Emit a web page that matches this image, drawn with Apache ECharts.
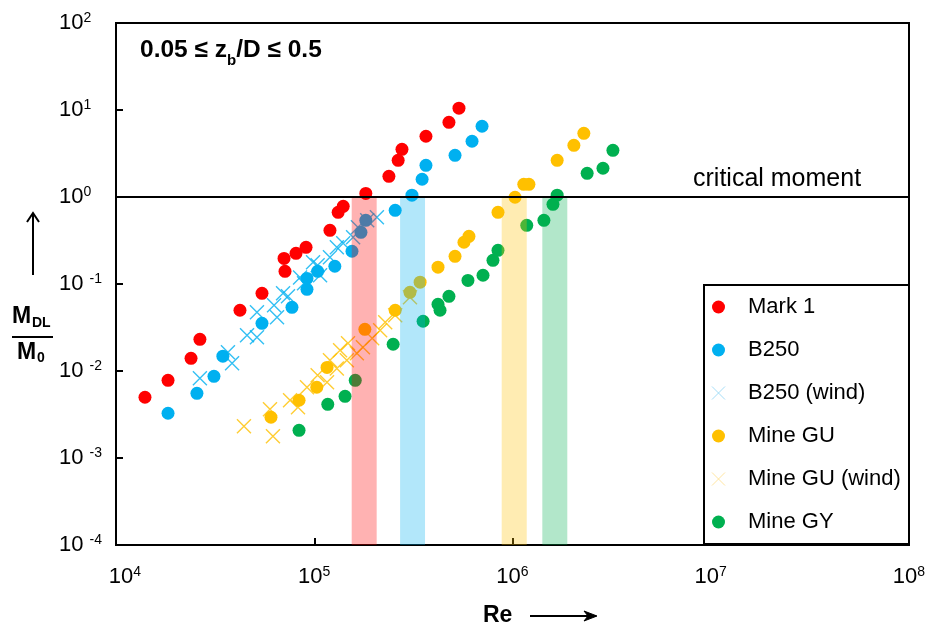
<!DOCTYPE html>
<html><head><meta charset="utf-8">
<script src="https://cdn.jsdelivr.net/npm/echarts@6/dist/echarts.min.js"></script>
<style>html,body{margin:0;padding:0;background:#fff}#c{width:931px;height:628px}</style>
</head><body><div id="c"></div><script>
const FONT = '"Liberation Sans", Arial, Helvetica, sans-serif';
const xTickExps = [4, 5, 6, 7, 8];
const yTickExps = [-4, -3, -2, -1, 0, 1, 2];
const criticalMoment = 1;
const bandRanges = [[1.545e5, 2.065e5], [2.71e5, 3.62e5], [8.82e5, 1.18e6], [1.414e6, 1.89e6]];

const mark1 = [
[1.40e4,4.99e-3],[1.83e4,7.82e-3],[2.39e4,1.40e-2],[2.65e4,2.31e-2],[4.22e4,4.99e-2],
[5.45e4,7.82e-2],[7.04e4,0.197],[7.12e4,0.140],[8.09e4,0.225],[9.09e4,0.264],
[1.20e5,0.414],[1.32e5,0.667],[1.40e5,0.782],[1.82e5,1.10],[2.38e5,1.73],
[2.65e5,2.64],[2.77e5,3.53],[3.66e5,4.99],[4.78e5,7.22],[5.37e5,10.5]
];
const b250 = [
[1.83e4,3.27e-3],[2.56e4,5.54e-3],[3.12e4,8.69e-3],[3.46e4,1.48e-2],[5.45e4,3.53e-2],
[7.72e4,5.40e-2],[9.19e4,8.69e-2],[9.19e4,0.116],[1.04e5,0.140],[1.27e5,0.160],
[1.55e5,0.238],[1.72e5,0.393],[1.82e5,0.540],[2.56e5,0.703],[3.11e5,1.05],
[3.50e5,1.60],[3.66e5,2.31],[5.13e5,3.01],[6.25e5,4.37],[7.02e5,6.50]
];
const b250Wind = [
[2.65e4,8.24e-3],[3.67e4,1.64e-2],[3.85e4,1.23e-2],[4.58e4,2.57e-2],[5.14e4,2.44e-2],
[5.14e4,4.73e-2],[6.27e4,5.69e-2],[6.49e4,4.14e-2],[6.96e4,7.82e-2],[7.37e4,7.22e-2],
[8.48e4,0.119],[8.88e4,0.102],[9.86e4,0.178],[1.04e5,0.164],[1.07e5,0.126],
[1.20e5,0.203],[1.30e5,0.264],[1.40e5,0.294],[1.57e5,0.344],[1.66e5,0.449],
[1.85e5,0.540],[2.07e5,0.585]
];
const mineGU = [
[6.05e4,2.94e-3],[8.38e4,4.61e-3],[1.03e5,6.50e-3],[1.16e5,1.10e-2],[1.80e5,3.01e-2],
[2.56e5,4.99e-2],[3.04e5,8.03e-2],[3.42e5,0.105],[4.21e5,0.156],[5.13e5,0.208],
[5.69e5,0.302],[6.03e5,0.353],[8.45e5,0.667],[1.03e6,0.993],[1.14e6,1.40],
[1.21e6,1.40],[1.68e6,2.64],[2.04e6,3.93],[2.29e6,5.40]
];
const mineGUWind = [
[4.42e4,2.31e-3],[6.19e4,1.78e-3],[5.98e4,3.63e-3],[7.55e4,4.61e-3],[8.28e4,3.83e-3],
[9.19e4,6.50e-3],[1.04e5,8.93e-3],[1.16e5,7.41e-3],[1.20e5,1.33e-2],[1.30e5,1.07e-2],
[1.35e5,1.73e-2],[1.46e5,1.33e-2],[1.48e5,2.08e-2],[1.64e5,1.60e-2],[1.76e5,1.87e-2],
[1.96e5,2.38e-2],[2.15e5,2.94e-2],[2.28e5,3.63e-2],[2.56e5,4.37e-2],[3.04e5,7.03e-2]
];
const mineGY = [
[8.38e4,2.08e-3],[1.17e5,4.14e-3],[1.43e5,5.12e-3],[1.61e5,7.82e-3],[2.50e5,2.03e-2],
[3.54e5,3.73e-2],[4.21e5,5.85e-2],[4.31e5,4.99e-2],[4.78e5,7.22e-2],[5.96e5,0.110],
[7.10e5,0.126],[7.97e5,0.187],[8.45e5,0.244],[1.18e6,0.473],[1.44e6,0.540],
[1.60e6,0.824],[1.68e6,1.05],[2.38e6,1.87],[2.86e6,2.14],[3.21e6,3.44]
];

const C_RED = '#FF0000', C_BLUE = '#00B0F0', C_YEL = '#FFC000', C_GRN = '#00B050';
const bandColors = ['rgba(255,0,0,0.3)', 'rgba(0,176,240,0.3)', 'rgba(255,192,0,0.3)', 'rgba(0,176,80,0.3)'];
const CROSS = 'path://M0,0L10,10M10,0L0,10';

const xLabels = xTickExps.map((e, i) => (i === 0 ? '{f|10}' : '10') + '{s|' + e + '}');
const yLabels = yTickExps.map(e => (e < 0 ? '10 {s|' : '10{s|') + e + '}');

function circleSeries(name, data, color) {
  return { name, type: 'scatter', data, symbol: 'circle', symbolSize: 13,
    itemStyle: { color, opacity: 1 }, z: 2 };
}
function crossSeries(name, data, color) {
  return { name, type: 'scatter', data, symbol: CROSS, symbolSize: 14,
    itemStyle: { color: 'rgba(0,0,0,0)', borderColor: color, borderWidth: 1.4 }, z: 3 };
}

const chart = echarts.init(document.getElementById('c'), null, { renderer: 'canvas' });
const labelRich = {
  s: { fontSize: 14, fontFamily: FONT, color: '#000', verticalAlign: 'top', lineHeight: 14 },
  f: { fontSize: 22, fontFamily: FONT, color: '#000', lineHeight: 24, padding: [0, 0, 0, 18] }
};

chart.setOption({
  animation: false,
  backgroundColor: '#fff',
  grid: { left: 116, top: 23, right: 22, bottom: 83, show: true, borderColor: '#000', borderWidth: 2,
    backgroundColor: 'rgba(0,0,0,0)', outerBoundsMode: 'none', containLabel: false },
  xAxis: {
    type: 'log', logBase: 10, min: 1e4, max: 1e8,
    axisLine: { show: true, lineStyle: { color: '#000', width: 2 } },
    axisTick: { show: true, inside: true, length: 7, lineStyle: { color: '#000', width: 2 } },
    minorTick: { show: false }, splitLine: { show: false },
    axisLabel: { margin: 20, color: '#000', fontSize: 22, fontFamily: FONT, lineHeight: 24,
      formatter: v => xLabels[xTickExps.indexOf(Math.round(Math.log10(v)))] || '', rich: labelRich }
  },
  yAxis: {
    type: 'log', logBase: 10, min: 1e-4, max: 1e2,
    axisLine: { show: true, lineStyle: { color: '#000', width: 2 } },
    axisTick: { show: true, inside: true, length: 7, lineStyle: { color: '#000', width: 2 } },
    minorTick: { show: false }, splitLine: { show: false },
    axisLabel: { margin: 57, align: 'left', color: '#000', fontSize: 22, fontFamily: FONT, lineHeight: 24,
      formatter: v => yLabels[yTickExps.indexOf(Math.round(Math.log10(v)))] || '', rich: labelRich }
  },
  legend: {
    orient: 'vertical', left: 704, top: 285, z: 10,
    itemWidth: 13, itemHeight: 13, itemGap: 21,
    padding: [11, 5, 11, 7.5],
    textStyle: { fontSize: 22, lineHeight: 22, fontFamily: FONT, color: '#000', padding: [0, 0, 0, 18] },
    data: [
      { name: 'Mark 1', icon: 'circle' },
      { name: 'B250', icon: 'circle' },
      { name: 'B250 (wind)', icon: CROSS, itemStyle: { color: 'rgba(0,0,0,0)', borderColor: '#8fd6f5', borderWidth: 1 } },
      { name: 'Mine GU', icon: 'circle' },
      { name: 'Mine GU (wind)', icon: CROSS, itemStyle: { color: 'rgba(0,0,0,0)', borderColor: '#ffe08a', borderWidth: 1 } },
      { name: 'Mine GY', icon: 'circle' }
    ]
  },
  graphic: [
    { type: 'rect', z: 5, shape: { x: 704, y: 285, width: 205, height: 259 },
      style: { fill: '#fff', stroke: '#000', lineWidth: 2 } },
    { type: 'text', z: 6, x: 140, y: 50, style: {
      text: '{a|0.05 ≤ z}{b|b}{a|/D ≤ 0.5}', verticalAlign: 'middle',
      rich: { a: { fontSize: 24.5, fontWeight: 'bold', fontFamily: FONT, fill: '#000', lineHeight: 36 },
              b: { fontSize: 15, fontWeight: 'bold', fontFamily: FONT, fill: '#000', lineHeight: 36, verticalAlign: 'bottom' } } } },
    { type: 'text', z: 6, x: 693, y: 179, style: { text: 'critical moment', fontSize: 25, fontFamily: FONT, fill: '#000', verticalAlign: 'middle' } },
    { type: 'text', z: 6, x: 12, y: 316.5, style: { text: 'M', fontSize: 23, fontWeight: 'bold', fontFamily: FONT, fill: '#000', verticalAlign: 'middle' } },
    { type: 'text', z: 6, x: 32, y: 323, style: { text: 'DL', fontSize: 14, fontWeight: 'bold', fontFamily: FONT, fill: '#000', verticalAlign: 'middle' } },
    { type: 'line', z: 6, shape: { x1: 12, y1: 337, x2: 53, y2: 337 }, style: { stroke: '#000', lineWidth: 2 } },
    { type: 'text', z: 6, x: 17, y: 353, style: { text: 'M', fontSize: 23, fontWeight: 'bold', fontFamily: FONT, fill: '#000', verticalAlign: 'middle' } },
    { type: 'text', z: 6, x: 37, y: 358, style: { text: '0', fontSize: 14, fontWeight: 'bold', fontFamily: FONT, fill: '#000', verticalAlign: 'middle' } },
    { type: 'polyline', z: 6, shape: { points: [[33, 275], [33, 213]] }, style: { stroke: '#000', lineWidth: 2 } },
    { type: 'polyline', z: 6, shape: { points: [[27, 222], [33, 213], [39, 222]] }, style: { stroke: '#000', lineWidth: 2, fill: null } },
    { type: 'text', z: 6, x: 483, y: 616, style: { text: 'Re', fontSize: 23, fontWeight: 'bold', fontFamily: FONT, fill: '#000', verticalAlign: 'middle' } },
    { type: 'polyline', z: 6, shape: { points: [[530, 616], [596, 616]] }, style: { stroke: '#000', lineWidth: 2 } },
    { type: 'polygon', z: 6, shape: { points: [[584, 611], [597, 616], [584, 621], [588, 616]] }, style: { fill: '#000', stroke: '#000', lineWidth: 1 } }
  ],
  series: [
    Object.assign(circleSeries('Mark 1', mark1, C_RED), {
      markLine: { silent: true, symbol: 'none', label: { show: false }, z: 4,
        lineStyle: { color: '#000', width: 2, type: 'solid' }, data: [{ yAxis: criticalMoment }] }
    }),
    circleSeries('B250', b250, C_BLUE),
    crossSeries('B250 (wind)', b250Wind, C_BLUE),
    circleSeries('Mine GU', mineGU, C_YEL),
    crossSeries('Mine GU (wind)', mineGUWind, C_YEL),
    circleSeries('Mine GY', mineGY, C_GRN),
    { name: 'bands', type: 'line', data: [], z: 4, silent: true,
      markArea: { silent: true, z: 4,
        data: bandRanges.map((r, i) => [
          { xAxis: r[0], yAxis: 1e-4, itemStyle: { color: bandColors[i] } },
          { xAxis: r[1], yAxis: criticalMoment }
        ]) } }
  ]
});
</script></body></html>
